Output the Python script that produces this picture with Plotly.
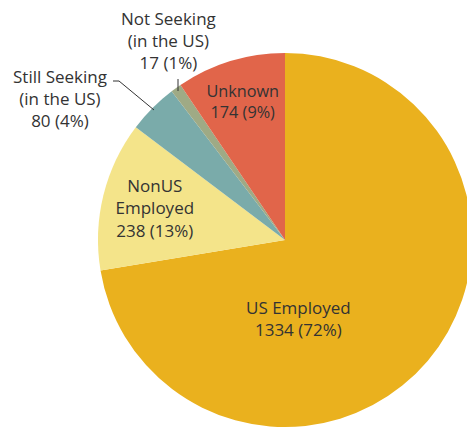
import plotly.graph_objects as go

labels = ["US Employed", "NonUS<br>Employed", "Still Seeking<br>(in the US)", "Not Seeking<br>(in the US)", "Unknown"]
values = [1334, 238, 80, 17, 174]
colors = ["#EAB11E", "#F4E48A", "#7AABAA", "#9FAA85", "#E1654A"]
# "pie": label drawn inside by the pie; "ann": label placed as annotation
label_mode = ["ann", "pie", "ann", "ann", "pie"]

W, H = 480, 428
L, T, B = 98, 53, 1
S = 374

def px(x):
    return (x - L) / S

def py(y):
    return (H - B - y) / S

FONT = dict(family="Open Sans", size=17, color="#333333")

texts = ["%{label}<br>%{value} (%{percent:.0%})" if m == "pie" else "" for m in label_mode]

fig = go.Figure(go.Pie(
    labels=labels, values=values, sort=False, direction="clockwise", rotation=0,
    marker=dict(colors=colors, line=dict(width=0)),
    texttemplate=texts, textposition="inside", insidetextorientation="horizontal",
    textfont=FONT,
    showlegend=False, hoverinfo="label+value+percent",
    domain=dict(x=[0, 1], y=[0, 1]),
))

total = sum(values)
ann_pos = {0: (298, 318), 3: (168, 40), 2: (60, 98)}
annotations = []
for idx, (x, y) in ann_pos.items():
    pct = round(values[idx] / total * 100)
    annotations.append(dict(
        text=f"{labels[idx]}<br>{values[idx]} ({pct}%)", xref="paper", yref="paper",
        x=px(x), y=py(y), xanchor="center", yanchor="middle",
        showarrow=False, font=FONT, align="center",
    ))

shapes = [
    dict(type="line", xref="paper", yref="paper", x0=px(178), y0=py(79), x1=px(178), y1=py(91), line=dict(color="#333333", width=1)),
    dict(type="line", xref="paper", yref="paper", x0=px(113), y0=py(81), x1=px(119), y1=py(81), line=dict(color="#333333", width=1)),
    dict(type="line", xref="paper", yref="paper", x0=px(119), y0=py(81), x1=px(154), y1=py(110), line=dict(color="#333333", width=1)),
]

fig.update_layout(
    width=W, height=H, margin=dict(l=L, r=W - L - S, t=T, b=B, autoexpand=False),
    paper_bgcolor="white", plot_bgcolor="white",
    annotations=annotations, shapes=shapes,
)

fig.write_html("out.html", config={"displayModeBar": False},
               post_script="document.body.style.margin='0';document.body.style.overflow='hidden';")
